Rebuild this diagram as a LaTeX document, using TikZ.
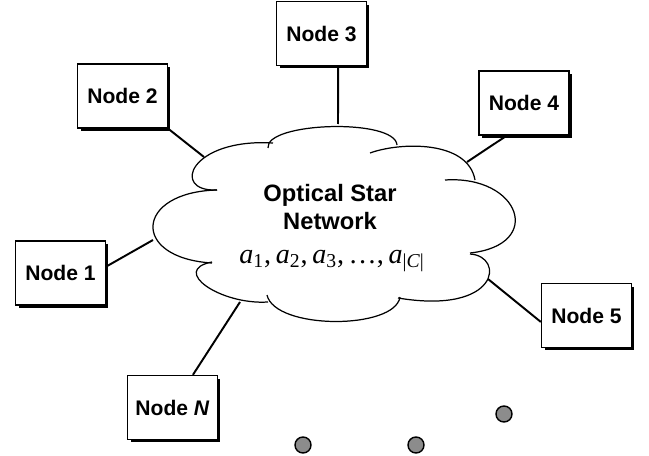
\documentclass[tikz,border=0pt]{standalone}
\usepackage{fontspec}
\setsansfont{Liberation Sans}
\newfontfamily\timesfont{Liberation Serif}
\usepackage{tikz}
\usetikzlibrary{
  calc,
  shadows
}
\newcommand{\wl}[1]{\textit{a}\textsubscript{#1}}
\tikzset{
  box/.style={
    draw,
    line width=0.8pt,
    fill=white,
    minimum width=1.8cm,
    minimum height=1.28cm,
    font=\sffamily\bfseries\fontsize{12}{14}\selectfont,
    drop shadow={shadow xshift=0.06cm, shadow yshift=-0.06cm, fill=black, opacity=1}},
  link/.style={line width=1.1pt},
  puff/.style={line width=0.7pt},
  dot/.style={
    circle,
    draw,
    line width=0.8pt,
    fill=black!45,
    minimum size=0.32cm,
    inner sep=0pt}
  }

\begin{document}
\begin{tikzpicture}[x=0.02cm, y=-0.02cm]
  \useasboundingbox (0,0) rectangle (649,456);
  % the cloud, lobe by lobe
  \draw [puff] (217,190) .. controls (170,192) and (190,138) .. (273,143);
  \draw [puff] (268,148) .. controls (265,122) and (395,118) .. (397,145);
  \draw [puff] (370,153) .. controls (400,142) and (468,140) .. (475,180);
  \draw [puff] (445,180) .. controls (520,175) and (545,245) .. (470,253);
  \draw [puff] (470,254) .. controls (505,256) and (500,315) .. (398,298);
  \draw [puff] (400,297) .. controls (395,330) and (275,330) .. (267,295);
  \draw [puff] (268,302) .. controls (220,305) and (170,270) .. (212,262);
  \draw [puff] (212,263) .. controls (130,258) and (135,192) .. (217,190);
  \node[align=center, font=\sffamily\bfseries\fontsize{13.5}{15.5}\selectfont]
    (title) at (330,207) {Optical Star\\Network};
  \node[font=\timesfont\fontsize{16}{19}\selectfont] (chan) at (332,261)
    {\wl{1},\,\wl{2},\,\wl{3},\,…,\,\wl{|\textit{C}|}};
  % where the links meet the cloud
  \coordinate (c1) at (153,240);
  \coordinate (c2) at (204,157);
  \coordinate (c3) at (338,124);
  \coordinate (c4) at (467,162);
  \coordinate (c5) at (488,279);
  \coordinate (cN) at (240,302);
  % the stations
  \node[box] (n1) at (60.5,273) {Node 1};
  \node[box] (n2) at (122.5,96) {Node 2};
  \node[box] (n3) at (321.5,33.5) {Node 3};
  \node[box] (n4) at (524,103) {Node 4};
  \node[box] (n5) at (586.5,315.5) {Node 5};
  \node[box] (nN) at (172.5,407.5) {Node \textit{N}};
  \draw [link]
    (n1.8) edge[] (c1)
    (n2.south east) edge[] (c2)
    (n3.-63) edge[] (c3)
    (n4.-118) edge[] (c4)
    (n5.188) edge[] (c5)
    (nN.58) edge[] (cN);
  % more stations
  \node[dot] (d1) at (303,445) {};
  \node[dot] (d2) at (416,445) {};
  \node[dot] (d3) at (504,414) {};
\end{tikzpicture}
\end{document}
